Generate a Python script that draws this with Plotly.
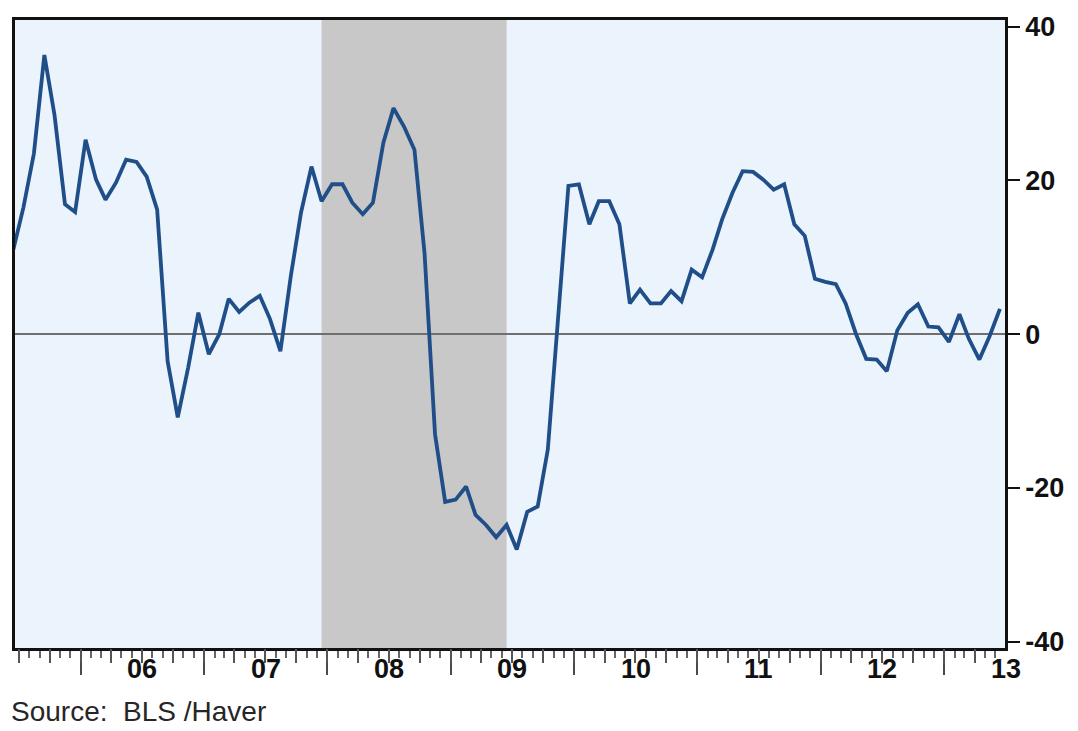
import pandas as pd
import plotly.graph_objects as go

# Monthly series, Jun 2005 - Jun 2013 (percent)
months = pd.date_range("2005-06-01", "2013-06-01", freq="MS") + pd.Timedelta(days=14)
values = [
    11.0, 16.5, 23.5, 36.3, 28.5, 16.9, 15.9,                      # 2005 Jun-Dec
    25.3, 20.1, 17.5, 19.7, 22.7, 22.4, 20.5, 16.2, -3.5, -10.8, -4.3, 2.8,   # 2006
    -2.6, 0.0, 4.6, 2.9, 4.1, 5.0, 2.0, -2.2, 7.6, 15.8, 21.8, 17.3,          # 2007
    19.5, 19.5, 17.1, 15.6, 17.1, 24.9, 29.4, 27.0, 24.0, 10.5, -13.0, -21.8, # 2008
    -21.5, -19.8, -23.5, -24.8, -26.4, -24.8, -28.0, -23.1, -22.4, -15.0, 2.5, 19.3,  # 2009
    19.5, 14.3, 17.3, 17.3, 14.3, 4.0, 5.8, 4.0, 4.0, 5.6, 4.3, 8.4,          # 2010
    7.4, 11.0, 14.9, 18.4, 21.2, 21.1, 20.1, 18.8, 19.5, 14.3, 12.8, 7.2,     # 2011
    6.8, 6.5, 4.0, 0.0, -3.2, -3.3, -4.8, 0.5, 2.8, 3.9, 1.0, 0.9,            # 2012
    -1.0, 2.6, -0.6, -3.3, -0.3, 3.3,                                         # 2013 Jan-Jun
]

# Recession period (NBER)
recession_start = "2007-12-15"
recession_end = "2009-06-15"

# Year labels, centred in each calendar year
year_labels = ["06", "07", "08", "09", "10", "11", "12", "13"]
label_years = [2006, 2007, 2008, 2009, 2010, 2011, 2012, 2013]

y_ticks = [-40, -20, 0, 20, 40]
y_ticktext = ["-40", "-20", "0", "20", "40"]

x_range = ["2005-06-20", "2013-06-30"]

LINE = "#1f4e88"
FONT = "Liberation Sans, Arial, sans-serif"

x0, x1 = pd.Timestamp(x_range[0]), pd.Timestamp(x_range[1])


def to_paper(ts):
    """Position of a date as a fraction of the x-axis span (may exceed 1)."""
    return (pd.Timestamp(ts) - x0) / (x1 - x0)


fig = go.Figure()

fig.add_trace(go.Scatter(
    x=months, y=values, mode="lines",
    line=dict(color=LINE, width=3.8),
    showlegend=False, hoverinfo="x+y",
))
# carrier trace for the quarterly tick axis
fig.add_trace(go.Scatter(
    x=months, y=values, mode="lines", xaxis="x2", yaxis="y",
    line=dict(width=0), opacity=0, showlegend=False, hoverinfo="skip",
))

fig.add_shape(
    type="rect", xref="x", yref="paper",
    x0=recession_start, x1=recession_end, y0=0, y1=1,
    fillcolor="#c8c8c8", line=dict(width=0), layer="below",
)

# year labels sit mid-year, the last one past the end of the axis
for lab, yr in zip(year_labels, label_years):
    fig.add_annotation(
        x=to_paper(f"{yr}-07-02"), xref="paper", y=-0.034, yref="paper",
        text=lab, showarrow=False, xanchor="center", yanchor="middle",
        font=dict(family=FONT, size=27, color="#111", weight="bold"),
    )

fig.add_annotation(
    x=-0.006, xref="paper", y=-0.101, yref="paper",
    text="Source:  BLS /Haver", showarrow=False,
    xanchor="left", yanchor="middle",
    font=dict(family=FONT, size=28, color="#262626"),
)

fig.update_layout(
    width=1078, height=731,
    margin=dict(l=12, r=73, t=15, b=83),
    paper_bgcolor="white",
    plot_bgcolor="#ebf3fd",
    xaxis=dict(
        type="date", range=x_range,
        tickmode="linear", tick0="2006-01-01", dtick="M12",
        ticks="outside", ticklen=24, tickwidth=2, tickcolor="#4a4a4a",
        showticklabels=False, showgrid=False, zeroline=False,
        showline=True, mirror=True, linecolor="#111", linewidth=2.5,
        minor=dict(ticks="outside", tick0="2006-01-01", dtick="M1",
                   ticklen=7, tickwidth=1.5, tickcolor="#666", showgrid=False),
    ),
    xaxis2=dict(
        type="date", overlaying="x", matches="x", anchor="y", side="bottom",
        tickmode="linear", tick0="2006-01-01", dtick="M3",
        ticks="outside", ticklen=14, tickwidth=1.8, tickcolor="#555",
        showticklabels=False, showgrid=False, zeroline=False, showline=False,
    ),
    yaxis=dict(
        side="right", range=[-40.8, 40.86],
        tickmode="array", tickvals=y_ticks, ticktext=y_ticktext,
        ticks="outside", ticklen=12, tickwidth=2, tickcolor="#111",
        tickfont=dict(family=FONT, size=27, color="#111", weight="bold"),
        showgrid=False,
        zeroline=True, zerolinecolor="#6f6f6f", zerolinewidth=1.6,
        showline=True, mirror=True, linecolor="#111", linewidth=2.5,
    ),
)

fig.write_html("out.html")
